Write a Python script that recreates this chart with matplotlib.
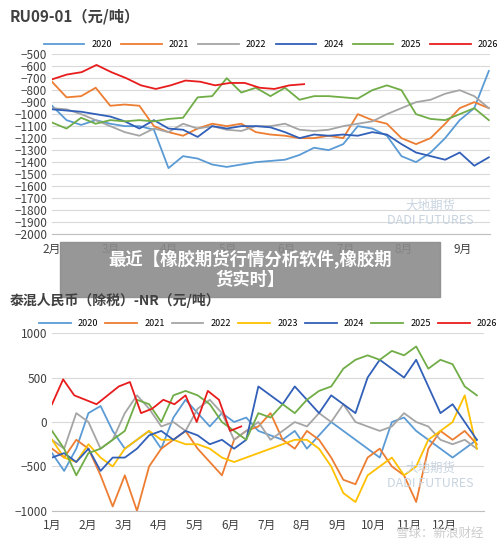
import numpy as np
import matplotlib.pyplot as plt
from matplotlib.patches import Rectangle

plt.rcParams['font.family'] = ['Noto Sans CJK SC', 'DejaVu Sans']

colors = {"2020": "#5b9bd5", "2021": "#ed7d31", "2022": "#a5a5a5", "2023": "#ffc000",
          "2024": "#3260b8", "2025": "#70ad47", "2026": "#e81c1c"}

# ---- top chart: RU09-01 spread, months from Feb (0) onwards
top_months = ["2月", "3月", "4月", "5月", "6月", "7月", "8月", "9月"]
ru_2020 = [-930, -1050, -1090, -1050, -1080, -1100, -1100, -1130, -1450, -1350, -1370, -1420, -1440, -1420, -1400, -1390,
           -1380, -1340, -1280, -1300, -1250, -1100, -1120, -1180, -1350, -1400, -1320, -1200, -1050, -950, -640]
ru_2021 = [-730, -860, -850, -780, -930, -920, -930, -1100, -1150, -1180, -1120, -1080, -1100, -1080, -1150, -1170,
           -1180, -1200, -1200, -1180, -1200, -1000, -1050, -1080, -1200, -1250, -1200, -1080, -950, -900, -950]
ru_2022 = [-950, -960, -1000, -1050, -1100, -1150, -1180, -1120, -1150, -1080, -1120, -1100, -1130, -1140, -1100, -1100,
           -1080, -1130, -1140, -1130, -1100, -1080, -1060, -1000, -950, -900, -880, -830, -800, -850, -950]
ru_2024 = [-960, -970, -980, -1000, -1020, -1060, -1120, -1050, -1120, -1130, -1190, -1100, -1120, -1100, -1100, -1110,
           -1150, -1200, -1170, -1180, -1170, -1180, -1150, -1170, -1250, -1320, -1350, -1380, -1320, -1430, -1360]
ru_2025 = [-1070, -1120, -1030, -1080, -1050, -1060, -1050, -1060, -1040, -1030, -860, -850, -700, -820, -780, -850,
           -780, -880, -850, -850, -860, -870, -800, -760, -800, -1000, -1040, -1050, -1000, -950, -1050]
ru_2026 = [-710, -670, -650, -590, -650, -700, -760, -790, -760, -720, -730, -760, -740, -740, -780, -790, -760, -750]
top_series = [("2020", ru_2020, 7.45), ("2021", ru_2021, 7.45), ("2022", ru_2022, 7.45),
              ("2024", ru_2024, 7.45), ("2025", ru_2025, 7.45), ("2026", ru_2026, 4.3)]

# ---- bottom chart: Thai mix RMB - NR, months from Jan (0)
bot_months = ["1月", "2月", "3月", "4月", "5月", "6月", "7月", "8月", "9月", "10月", "11月", "12月"]
nr_2020 = [-350, -550, -300, 100, 180, -100, -300, -200, -100, -300, 50, 250, 100, -50, 100, 0, 50, -100,
           -150, -200, -100, -300, -150, 0, -100, -200, -300, -400, 0, 50, -100, -200, -300, -400, -300, -200]
nr_2021 = [-300, -400, -200, -300, -600, -950, -600, -1000, -500, -300, -200, -100, -300, -450, -600, -200, -100, -50,
           100, -200, -300, -100, -200, -400, -650, -700, -400, -300, -500, -600, -900, -300, -100, -200, -100, -250]
nr_2022 = [-200, -300, 100, 0, -300, -200, 100, 300, 150, -50, 0, -100, 150, 250, 100, -200, -100, 0,
           -200, -100, 0, -50, 100, 0, 200, 0, -50, -100, -50, 100, 0, -50, -200, -250, -200, -300]
nr_2023 = [-200, -400, -450, -250, -400, -500, -300, -200, -100, -200, -200, -250, -250, -300, -400, -450, -400, -350,
           -300, -250, -200, -200, -300, -500, -800, -900, -600, -500, -400, -600, -500, -200, -100, 0, 300, -300]
nr_2024 = [-400, -350, -450, -300, -550, -400, -400, -300, -150, -100, -200, -100, -150, -250, -200, -300, -200, 400,
           300, 200, 400, 250, 100, 300, 200, 100, 500, 700, 600, 500, 700, 400, 100, 200, 0, -200]
nr_2025 = [-100, -300, -600, -350, -300, -200, -100, 250, 200, 0, 300, 350, 300, 200, 0, -100, -200, 100,
           50, 200, 100, 250, 350, 400, 600, 700, 750, 700, 800, 750, 850, 600, 700, 650, 400, 300]
nr_2026 = [200, 480, 300, 250, 200, 300, 400, 450, 100, 150, 250, 200, 300, 0, 350, 250, -100, -50]
bot_series = [("2020", nr_2020, 11.9), ("2021", nr_2021, 11.9), ("2022", nr_2022, 11.9), ("2023", nr_2023, 11.9),
              ("2024", nr_2024, 11.9), ("2025", nr_2025, 11.9), ("2026", nr_2026, 5.3)]

fig = plt.figure(figsize=(5, 5.47), dpi=100)


def style(ax, yticks, ymin, ymax, xmax, months):
    ax.set_ylim(ymin, ymax)
    ax.set_xlim(0, xmax)
    ax.set_yticks(yticks)
    ax.yaxis.grid(True, color="#d9d9d9", lw=0.8)
    ax.set_axisbelow(True)
    for s in ["top", "right", "left"]:
        ax.spines[s].set_visible(False)
    ax.spines["bottom"].set_color("#bfbfbf")
    ax.set_xticks(range(len(months)))
    ax.set_xticklabels(months, fontsize=8.5, color="#404040")
    ax.tick_params(length=0, labelsize=8.5, colors="#404040")
    ax.tick_params(axis="x", pad=6)


ax1 = fig.add_axes([0.104, 0.572, 0.876, 0.329])
for name, vals, end in top_series:
    ax1.plot(np.linspace(0, end, len(vals)), vals, color=colors[name], lw=1.3, label=name)
style(ax1, range(-2000, -499, 100), -2000, -500, 7.47, top_months)
ax1.legend(loc="lower center", bbox_to_anchor=(0.5, 1.0), ncol=6, frameon=False, fontsize=6.5,
           handlelength=4.5, columnspacing=1.0, borderaxespad=0.2)
fig.text(0.02, 0.96, "RU09-01（元/吨）", fontsize=11, fontweight="bold", color="#404040")
fig.text(0.86, 0.61, "大地期货\nDADI FUTURES", fontsize=9, color="#c8d4e0", ha="center", va="center")

ax2 = fig.add_axes([0.104, 0.066, 0.864, 0.325])
for name, vals, end in bot_series:
    ax2.plot(np.linspace(0, end, len(vals)), vals, color=colors[name], lw=1.3, label=name)
style(ax2, [-1000, -500, 0, 500, 1000], -1000, 1000, 12.1, bot_months)
ax2.legend(loc="lower center", bbox_to_anchor=(0.5, 1.0), ncol=7, frameon=False, fontsize=6.5,
           handlelength=3.5, columnspacing=0.8, borderaxespad=0.2)
fig.text(0.02, 0.451, "泰混人民币（除税）-NR（元/吨）", fontsize=10, fontweight="bold", color="#404040",
         va="center", zorder=12)
fig.text(0.86, 0.13, "大地期货\nDADI FUTURES", fontsize=9, color="#c8d4e0", ha="center", va="center")
fig.text(0.88, 0.025, "雪球：新浪财经", fontsize=9, color="#cccccc", ha="center", va="center")

# grey overlay banner
fig.patches.append(Rectangle((0.12, 0.457), 0.76, 0.101, transform=fig.transFigure,
                             color="#8c8c8c", alpha=0.9, zorder=10))
fig.text(0.5, 0.508, "最近【橡胶期货行情分析软件,橡胶期\n货实时】", fontsize=12.5, fontweight="bold",
         color="white", ha="center", va="center", zorder=11, linespacing=1.15)

fig.savefig("out.png", dpi=100)
